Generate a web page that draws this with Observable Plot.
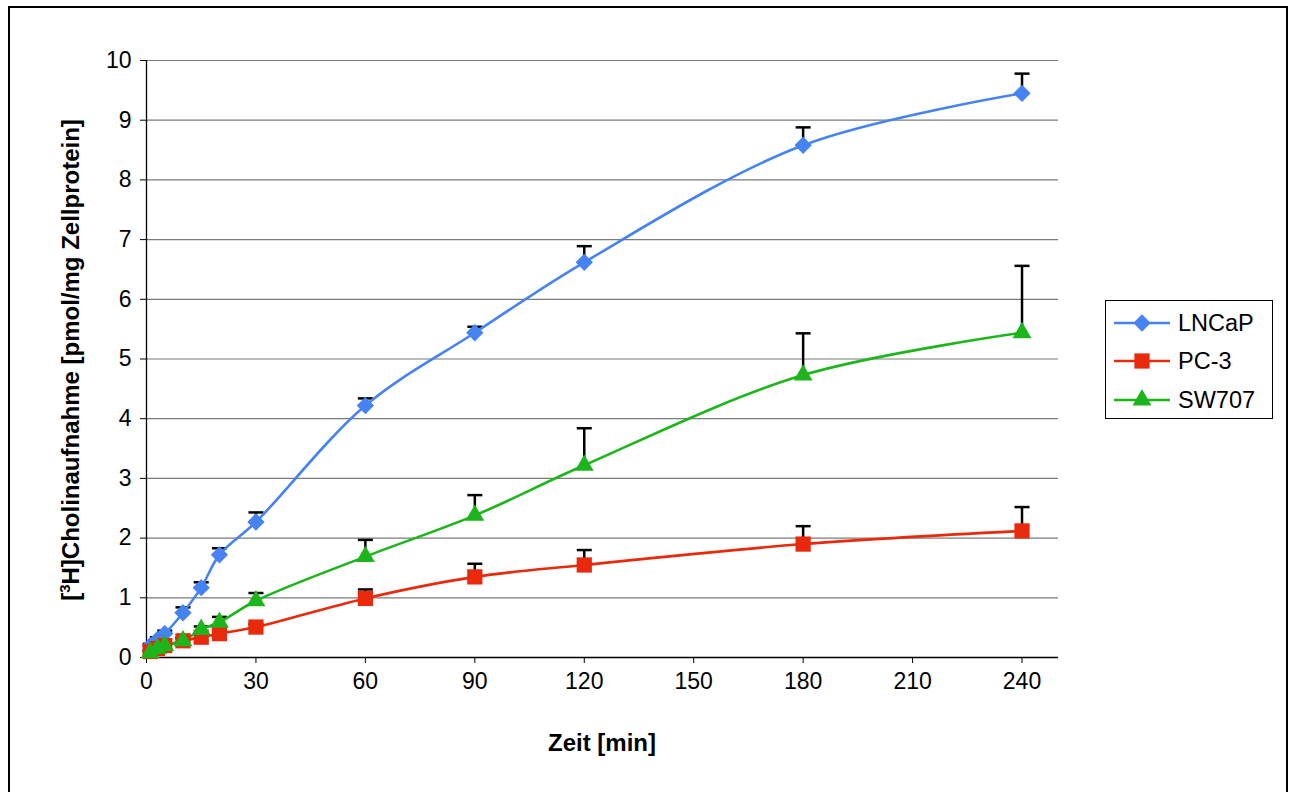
<!DOCTYPE html>
<html>
<head>
<meta charset="utf-8">
<script src="https://cdn.jsdelivr.net/npm/d3@7"></script>
<script src="https://cdn.jsdelivr.net/npm/@observablehq/plot@0.6"></script>
<style>
  body { margin: 0; background: #fff; font-family: "Liberation Sans", Arial, sans-serif; }
  #wrap { position: relative; width: 1291px; height: 792px; overflow: hidden; }
  #frame { position: absolute; left: 8px; top: 6px; width: 1280px; height: 790px; border: 2px solid #000; box-sizing: border-box; pointer-events: none; }
  #ytitle { position: absolute; left: 70px; top: 360px; transform: translate(-50%, -50%) rotate(-90deg); white-space: nowrap; font-weight: bold; font-size: 24px; }
  #xtitle { position: absolute; left: 602px; top: 743px; transform: translate(-50%, -50%); white-space: nowrap; font-weight: bold; font-size: 24px; }
  #legend { position: absolute; left: 1105px; top: 300px; width: 168px; height: 119px; border: 1.5px solid #000; box-sizing: border-box; background: #fff; }
  .row { position: absolute; left: 0; height: 30px; display: flex; align-items: center; }
  .row span { font-size: 23.5px; margin-left: 4px; }
</style>
</head>
<body>
<div id="wrap">
  <div id="chart"></div>
  <div id="frame"></div>
  <div id="ytitle">[<sup style="font-size:15px;vertical-align:9px">3</sup>H]Cholinaufnahme [pmol/mg Zellprotein]</div>
  <div id="xtitle">Zeit [min]</div>
  <div id="legend"></div>
</div>
<script>
// ---- data ----
const times = [1, 3, 5, 10, 15, 20, 30, 60, 90, 120, 180, 240];
const lncap = [0.2, 0.3, 0.4, 0.75, 1.17, 1.72, 2.27, 4.22, 5.44, 6.62, 8.58, 9.45];
const lncapErr = [0.03, 0.04, 0.05, 0.09, 0.09, 0.11, 0.16, 0.12, 0.1, 0.27, 0.3, 0.33];
const pc3 = [0.1, 0.15, 0.2, 0.28, 0.34, 0.4, 0.51, 0.99, 1.35, 1.55, 1.9, 2.12];
const pc3Err = [0.02, 0.02, 0.03, 0.04, 0.05, 0.06, 0.05, 0.15, 0.22, 0.25, 0.3, 0.4];
const sw707 = [0.08, 0.15, 0.2, 0.28, 0.47, 0.59, 0.95, 1.69, 2.38, 3.22, 4.73, 5.44];
const sw707Err = [0.02, 0.03, 0.03, 0.05, 0.05, 0.09, 0.13, 0.28, 0.34, 0.62, 0.7, 1.12];
const seriesNames = ["LNCaP", "PC-3", "SW707"];
const xTicks = [0, 30, 60, 90, 120, 150, 180, 210, 240];
const yTicks = [0, 1, 2, 3, 4, 5, 6, 7, 8, 9, 10];

// ---- styles ----
const colors = {"LNCaP": "#4683F2", "PC-3": "#E8290C", "SW707": "#1CB51C"};
const symbols = {"LNCaP": "diamond2", "PC-3": "square", "SW707": "triangle"};
const radii = {"LNCaP": 7.8, "PC-3": 8.6, "SW707": 7};

const values = {"LNCaP": lncap, "PC-3": pc3, "SW707": sw707};
const errs = {"LNCaP": lncapErr, "PC-3": pc3Err, "SW707": sw707Err};
const rows = seriesNames.flatMap(s => times.map((t, i) => ({series: s, t, v: values[s][i], e: values[s][i] + errs[s][i]})));

const cap = {draw(ctx) { ctx.moveTo(-7.5, 0); ctx.lineTo(7.5, 0); }};

const marks = [
  Plot.gridY(yTicks.slice(1), {stroke: "#7a7a7a", strokeOpacity: 1, strokeWidth: 1.2}),
  Plot.axisX({ticks: xTicks, tickSize: 6, tickPadding: 9, fontSize: 23, label: null, tickFormat: d => String(d)}),
  Plot.axisY({ticks: yTicks, tickSize: 6, tickPadding: 9, fontSize: 23, label: null, tickFormat: d => String(d)}),
  Plot.ruleY([0], {stroke: "#000", strokeWidth: 1.3}),
  Plot.ruleX([0], {stroke: "#000", strokeWidth: 1.3}),
  Plot.ruleX(rows, {x: "t", y1: "v", y2: "e", stroke: "#000", strokeWidth: 2.5}),
  Plot.dot(rows, {x: "t", y: "e", symbol: () => cap, stroke: "#000", strokeWidth: 2.5, fill: "none", r: 5})
];
for (const s of seriesNames) {
  const d = rows.filter(r => r.series === s);
  marks.push(Plot.line(d, {x: "t", y: "v", stroke: colors[s], strokeWidth: 2.6, curve: "catmull-rom"}));
}
for (const s of seriesNames) {
  const d = rows.filter(r => r.series === s);
  marks.push(Plot.dot(d, {x: "t", y: "v", symbol: symbols[s], fill: colors[s], stroke: "none", r: radii[s]}));
}

const chart = Plot.plot({
  width: 1291,
  height: 792,
  marginLeft: 146,
  marginRight: 233,
  marginTop: 60,
  marginBottom: 135,
  style: {fontFamily: "'Liberation Sans', Arial, sans-serif", fontSize: "23px", color: "#000", background: "transparent"},
  x: {domain: [0, 250]},
  y: {domain: [0, 10]},
  symbol: {type: "identity"},
  marks
});
document.getElementById("chart").appendChild(chart);

// ---- legend ----
const legend = document.getElementById("legend");
const rowTops = [7, 45, 84];
seriesNames.forEach((s, i) => {
  const row = document.createElement("div");
  row.className = "row";
  row.style.top = rowTops[i] + "px";
  const sym = d3.symbol(s === "LNCaP" ? d3.symbolDiamond2 : s === "PC-3" ? d3.symbolSquare : d3.symbolTriangle, Math.PI * radii[s] * radii[s])();
  row.innerHTML = `<svg width="62" height="30" style="margin-left:6px"><line x1="2" x2="58" y1="15" y2="15" stroke="${colors[s]}" stroke-width="2.6"/><path d="${sym}" transform="translate(30,15)" fill="${colors[s]}"/></svg><span>${s}</span>`;
  legend.appendChild(row);
});
</script>
</body>
</html>
